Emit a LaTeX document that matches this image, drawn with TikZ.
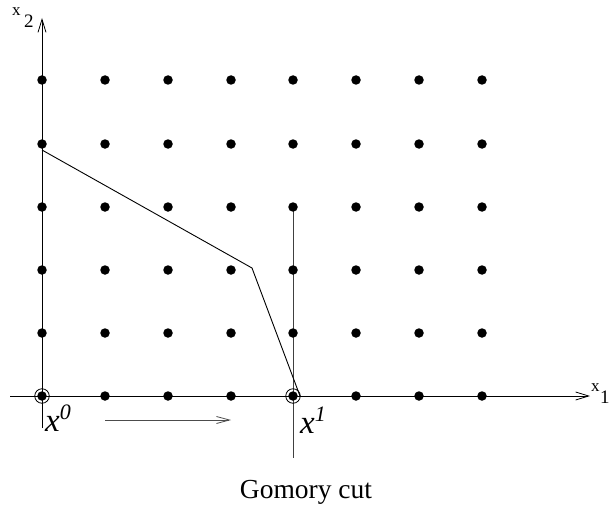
\documentclass[tikz,border=0pt]{standalone}
\usepackage{fontspec}
\setmainfont{Liberation Serif}
\usetikzlibrary{arrows.meta}
\begin{document}
\begin{tikzpicture}[x=1pt,y=-1pt,
  latdot/.style={circle,fill=black,inner sep=0pt,minimum size=9.5pt},
  ring/.style={circle,draw=black,line width=0.8pt,inner sep=0pt,minimum size=14.5pt},
  axis/.style={line width=0.9pt,-{Straight Barb[length=13pt,width=8pt,line width=0.8pt]}},
  cutline/.style={line width=0.9pt,black},
  lbl/.style={inner sep=0pt,anchor=base west}]
\useasboundingbox (0,0) rectangle (609,508);
% axes
\coordinate (xs) at (10,396);
\coordinate (xe) at (590,396);
\coordinate (ys) at (42,428);
\coordinate (ye) at (42,18);
\draw[axis] (xs) -- (xe);
\draw[axis] (ys) -- (ye);
% vertical line through x1
\coordinate (vt) at (293,207);
\coordinate (vb) at (293,458);
\draw[line width=0.9pt,black!75] (vt) -- (vb);
% lattice points
\foreach \i/\x in {0/42,1/105,2/168,3/231,4/293,5/356,6/419,7/482}{
  \foreach \j/\y in {0/396,1/333,2/270,3/207,4/144,5/80}{
    \node[latdot] (d\i\j) at (\x,\y) {};
  }
}
\node[ring] (r0) at (d00) {};
\node[ring] (r1) at (d40) {};
% cut polyline
\coordinate (c1) at (42,150);
\coordinate (c2) at (252,268);
\coordinate (c3) at (300,396);
\draw[cutline] (c1) -- (c2) -- (c3);
% move arrow
\coordinate (m1) at (105,420);
\coordinate (m2) at (231,420);
\draw[line width=0.9pt,black!70,-{Straight Barb[length=13pt,width=7pt,line width=0.8pt]}] (m1) -- (m2);
% labels
\node[lbl] (lx2a) at (12,16) {\fontsize{17}{17}\selectfont x};
\node[lbl] (lx2b) at (24,28) {\fontsize{19}{19}\selectfont 2};
\node[lbl] (lx1a) at (591,391) {\fontsize{17}{17}\selectfont x};
\node[lbl] (lx1b) at (600,403) {\fontsize{19}{19}\selectfont 1};
\node[lbl] (lx0) at (45,431) {\fontsize{33}{33}\selectfont\itshape x\raisebox{12pt}{\fontsize{22}{22}\selectfont 0}};
\node[lbl] (lx1) at (300,433) {\fontsize{33}{33}\selectfont\itshape x\raisebox{12pt}{\fontsize{22}{22}\selectfont 1}};
\node[anchor=base,inner sep=0pt] (cap) at (306,498) {\fontsize{27.5}{27.5}\selectfont Gomory cut};
\end{tikzpicture}
\end{document}
